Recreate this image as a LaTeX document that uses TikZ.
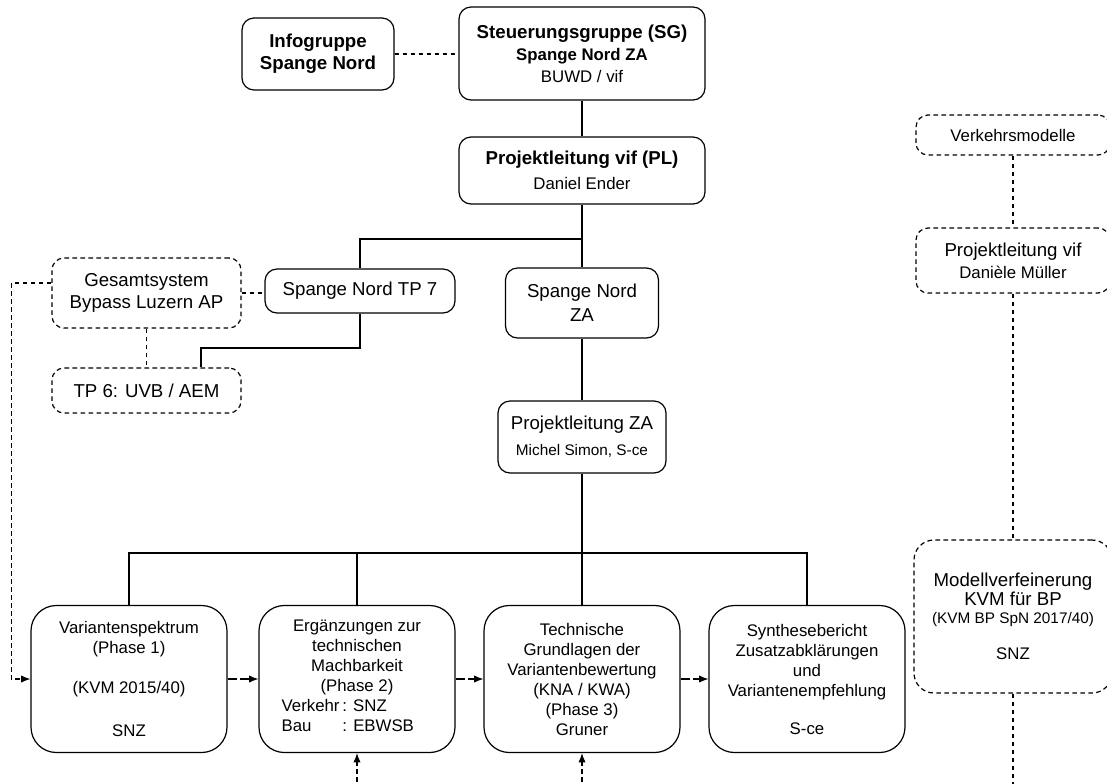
\documentclass[tikz,border=0pt]{standalone}
\usepackage{fontspec}
\setmainfont{Liberation Sans}
\usetikzlibrary{positioning,calc,arrows.meta}

\begin{document}
\begin{tikzpicture}[x=0.75pt,y=-0.75pt]
    \def\myunit{0.75pt}
    \def\fbig{\fontsize{14}{16.5}\selectfont}
    \def\fmid{\fontsize{12.6}{15}\selectfont}
    \def\fsmall{\fontsize{11.5}{14}\selectfont}
    \tikzstyle{box}=[draw=black,line width=0.9pt,rounded corners=9pt,align=center,inner sep=0pt,font=\fbig]
    \tikzstyle{dbox}=[box,dash pattern=on 3.5pt off 2.5pt]
    \tikzstyle{phase}=[box,rounded corners=19pt,minimum width=196*\myunit,minimum height=147*\myunit,font=\fmid]
    \tikzstyle{link}=[line width=0.8pt]
    \tikzstyle{dlink}=[link,dash pattern=on 3.5pt off 2.5pt]
    \tikzstyle{arr}=[dlink,-{Latex[length=7pt,width=5.5pt]}]
    \tikzstyle{flow}=[arr,dash pattern=on 7pt off 2.5pt]
    % page
    \useasboundingbox (0,0) rectangle (1107,783);
    \fill[white] (0,0) rectangle (1107,783);
    \clip (0,0) rectangle (1107,783);
    % top
    \node[box,font=\fbig\bfseries,minimum width=152*\myunit,minimum height=72*\myunit] (info) at (318,54) {Infogruppe\\Spange Nord};
    \node[box,font=\fbig\bfseries,minimum width=246*\myunit,minimum height=93*\myunit] (sg) at (582,53.5)
        {Steuerungsgruppe (SG)\\{\fmid Spange Nord ZA}\\{\fmid\mdseries BUWD / vif}};
    \node[box,font=\fbig\bfseries,minimum width=246*\myunit,minimum height=67*\myunit] (pl) at (582,170.5)
        {Projektleitung vif (PL)\\[2pt]{\fmid\mdseries Daniel Ender}};
    % left
    \node[box,minimum width=190*\myunit,minimum height=44*\myunit] (tp7) at (360,291) {Spange Nord TP 7};
    \node[dbox,minimum width=189*\myunit,minimum height=70*\myunit] (ges) at (146.5,293) {Gesamtsystem\\Bypass Luzern AP};
    \node[dbox,minimum width=189*\myunit,minimum height=45*\myunit] (tp6) at (146.5,390.5) {TP 6: UVB / AEM};
    % centre
    \node[box,minimum width=153*\myunit,minimum height=70*\myunit] (snza) at (582,303) {Spange Nord\\[1.5pt]ZA};
    \node[box,minimum width=168*\myunit,minimum height=72*\myunit] (plza) at (582,437)
        {Projektleitung ZA\\[3pt]{\fsmall Michel Simon, S-ce}};
    % phases
    \node[phase] (v1) at (129,679) {Variantenspektrum\\(Phase 1)\\[15pt](KVM 2015/40)\\[17pt]SNZ};
    \node[phase] (v2) at (357,679) {Ergänzungen zur\\technischen\\Machbarkeit\\(Phase 2)\\
        \makebox[113pt][l]{\begin{tabular}[t]{@{}l@{\,}l@{}}Verkehr&: SNZ\\Bau&: EBWSB\end{tabular}}};
    \node[phase] (v3) at (582,679) {Technische\\Grundlagen der\\Variantenbewertung\\(KNA / KWA)\\(Phase 3)\\Gruner};
    \node[phase] (v4) at (807,679) {Synthesebericht\\Zusatzabklärungen\\und\\Variantenempfehlung\\[13.5pt]S-ce};
    % right
    \node[dbox,font=\fmid,minimum width=194*\myunit,minimum height=40*\myunit] (vm) at (1013,135) {Verkehrsmodelle};
    \node[dbox,minimum width=194*\myunit,minimum height=65*\myunit] (plvif) at (1013,260.5)
        {Projektleitung vif\\{\fmid Danièle Müller}};
    \node[dbox,rounded corners=15pt,font=\fontsize{14}{14}\selectfont,minimum width=198*\myunit,minimum height=153*\myunit] (mv) at (1013,616.5)
        {Modellverfeinerung\\KVM für BP\\{\fsmall (KVM BP SpN 2017/40)}\\[13pt]{\fmid SNZ}};
    % connections
    \draw[dlink] (info.east) -- (info.east -| sg.west);
    \draw[link] (sg) -- (pl);
    \draw[link] (pl) -- (snza);
    \coordinate (fork) at (582,239);
    \draw[link] (fork) -| (tp7.north);
    \coordinate (kink) at (201,348);
    \draw[link] (tp7.south) |- (kink) -- (kink |- tp6.north);
    \draw[dlink] (ges.east) -- (ges.east -| tp7.west);
    \draw[dlink] (ges) -- (tp6);
    \draw[arr] ($(ges.west)+(0,-10)$) -- ++(-40,0) |- (v1.west);
    \draw[link] (snza) -- (plza);
    \coordinate (bus) at (582,553);
    \draw[link] (plza) -- (bus);
    \draw[link] (v1.north) |- (bus) -| (v4.north);
    \draw[link] (v2.north) -- (v2.north |- bus);
    \draw[link] (v3.north) -- (bus);
    \draw[flow] (v1) -- (v2);
    \draw[flow] (v2) -- (v3);
    \draw[flow] (v3) -- (v4);
    \coordinate (in2) at (357,790);
    \coordinate (in3) at (582,790);
    \draw[arr] (in2) -- (v2.south);
    \draw[arr] (in3) -- (v3.south);
    % model column
    \draw[dlink] (vm) -- (plvif);
    \draw[dlink] (plvif) -- (mv);
    \coordinate (out) at (1013,790);
    \draw[dlink] (mv) -- (out);
\end{tikzpicture}
\end{document}
